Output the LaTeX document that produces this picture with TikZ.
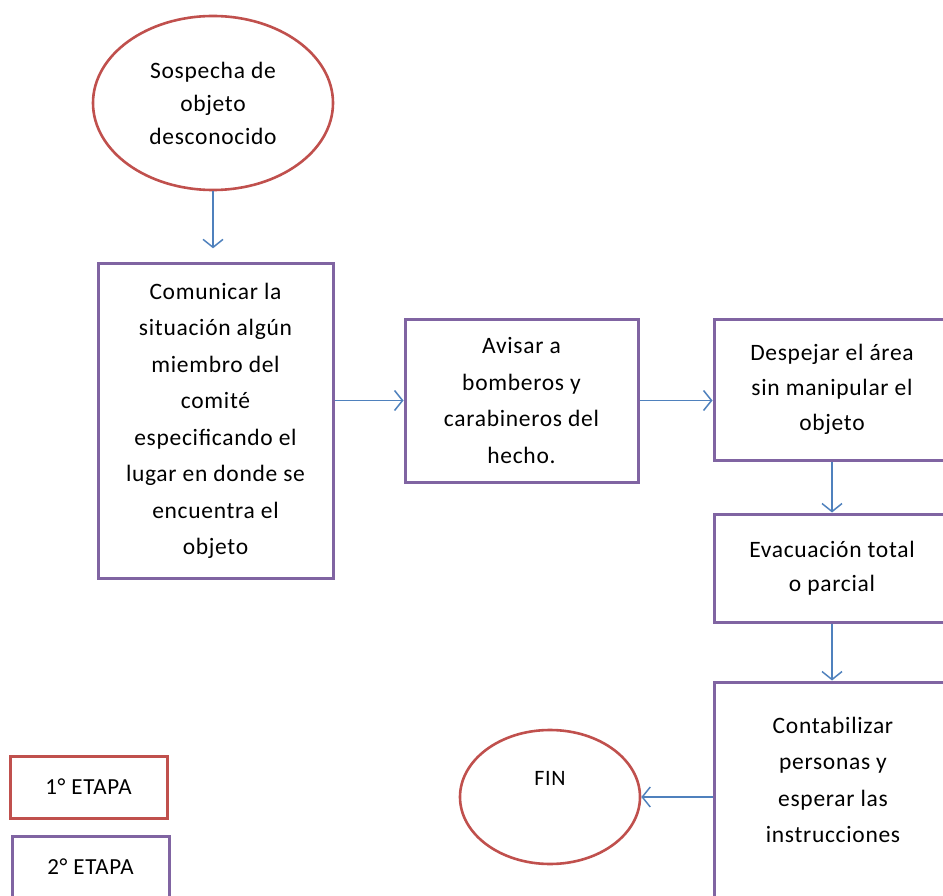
\documentclass[tikz,border=0pt]{standalone}
\usepackage{fontspec}
\setmainfont{Carlito}[LetterSpace=3]
\usetikzlibrary{shapes.geometric,arrows.meta}
\definecolor{rojo}{HTML}{C0504D}
\definecolor{morado}{HTML}{8064A2}
\definecolor{azul}{HTML}{4F81BD}
\tikzset{
  paso/.style={draw=morado, line width=3pt, rectangle, inner sep=0pt, align=center,
    font=\fontsize{23.5}{36.5}\selectfont},
  inicio/.style={draw=rojo, line width=2.6pt, ellipse, inner sep=0pt, align=center,
    font=\fontsize{23.5}{33}\selectfont},
  etapa/.style={rectangle, inner sep=0pt, line width=3pt, font=\fontsize{23}{24}\selectfont},
  txt/.style={align=center, inner sep=0pt, font=\fontsize{23.5}{36.5}\selectfont},
  flecha/.style={draw=azul, line width=1.5pt, -{Straight Barb[length=8pt,width=20pt,line width=1.5pt]}}
}
\begin{document}
\begin{tikzpicture}[x=1pt,y=-1pt]
\useasboundingbox (0,0) rectangle (943,896);
\clip (0,0) rectangle (943,896);
\node[inicio, minimum width=240pt, minimum height=174pt] (e1) at (213,103)
  {Sospecha de\\objeto\\desconocido};
\node[paso, minimum width=235pt, minimum height=314pt] (c1) at (215.5,421)
  {Comunicar la\\situación algún\\miembro del\\comité\\especificando el\\lugar en donde se\\encuentra el\\objeto};
\node[paso, minimum width=233pt, minimum height=163pt] (c2) at (521.5,400.5)
  {Avisar a\\bomberos y\\carabineros del\\hecho.};
\node[paso, minimum width=236pt, minimum height=141pt, font=\fontsize{23.5}{35}\selectfont] (c3) at (832,389.5)
  {Despejar el área\\sin manipular el\\objeto};
\node[paso, minimum width=236pt, minimum height=108pt, font=\fontsize{23.5}{34}\selectfont] (c4) at (832,568)
  {Evacuación total\\o parcial};
\node[paso, minimum width=236pt, minimum height=230pt] (c5) at (832,797) {};
\node[txt] (c5t) at (833,780) {Contabilizar\\personas y\\esperar las\\instrucciones};
\node[inicio, minimum width=180pt, minimum height=134pt] (fin) at (550,797) {};
\node[txt, font=\fontsize{22}{24}\selectfont] (fint) at (550,778) {FIN};
\node[etapa, draw=rojo, minimum width=157pt, minimum height=62pt] (l1) at (88.5,787) {1° ETAPA};
\node[etapa, draw=morado, minimum width=157pt, minimum height=62pt] (l2) at (90.5,867) {2° ETAPA};
\coordinate (a1end) at ([yshift=-57pt]e1.south);
\draw[flecha] (e1.south) -- (a1end);
\draw[flecha] (c1.east |- c2.west) -- (c2.west);
\draw[flecha] (c2.east) -- (c2.east -| c3.west);
\draw[flecha] (c3.south) -- (c4.north);
\draw[flecha] (c4.south) -- (c5.north);
\draw[flecha] (c5.west) -- (fin.east);
\end{tikzpicture}
\end{document}
